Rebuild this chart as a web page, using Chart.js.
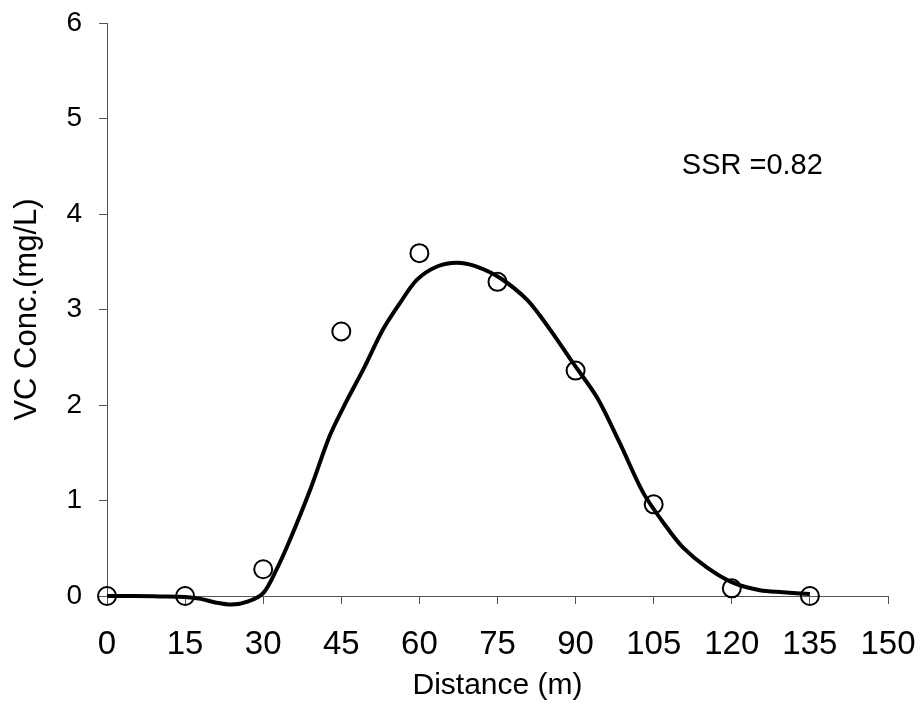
<!DOCTYPE html>
<html>
<head>
<meta charset="utf-8">
<script src="https://cdn.jsdelivr.net/npm/chart.js@4"></script>
<style>
  html, body { margin: 0; padding: 0; background: #fff; }
  #wrap { width: 922px; height: 704px; position: relative; }
</style>
</head>
<body>
<div id="wrap"><canvas id="vcChart"></canvas></div>
<script>
// observed concentrations
const obsDistance = [0, 15, 30, 45, 60, 75, 90, 105, 120, 135];
const obsConc = [0, 0, 0.28, 2.77, 3.59, 3.29, 2.36, 0.96, 0.08, 0];

// fitted model curve
const fitDistance = [0, 5, 10, 15, 18, 21, 24, 27, 30, 32.5, 35, 39, 42.8, 46, 49.2, 53, 56.3, 59.5, 63.4, 67.2, 71, 75.5, 80.7, 85.1, 89.5, 94.1, 98.5, 103, 107.5, 110.6, 115.2, 120.2, 125.4, 129.8, 135];
const fitConc = [0, 0, -0.005, -0.01, -0.03, -0.07, -0.09, -0.06, 0.03, 0.27, 0.57, 1.11, 1.68, 2.04, 2.37, 2.79, 3.07, 3.31, 3.45, 3.49, 3.45, 3.33, 3.10, 2.79, 2.44, 2.08, 1.60, 1.08, 0.72, 0.51, 0.30, 0.14, 0.06, 0.04, 0.02];

const xTicks = [0, 15, 30, 45, 60, 75, 90, 105, 120, 135, 150];
const yTicks = [0, 1, 2, 3, 4, 5, 6];
const ssrText = "SSR =0.82";

const FONT = "'Liberation Sans', Arial, sans-serif";
const AXIS_COLOR = "#555";

// keep the plot box where the layout padding puts it
function noOverflow(s) {
    s.paddingTop = 0;
    s.paddingBottom = 0;
    s.paddingLeft = 0;
    s.paddingRight = 0;
}

const ssrLabel = {
    id: "ssrLabel",
    afterDatasetsDraw(chart) {
        const { ctx, scales } = chart;
        ctx.save();
        ctx.font = "29px " + FONT;
        ctx.fillStyle = "#000";
        ctx.textAlign = "left";
        ctx.textBaseline = "middle";
        ctx.fillText(ssrText, scales.x.getPixelForValue(110.4), scales.y.getPixelForValue(4.5));
        ctx.restore();
    },
};

new Chart(document.getElementById("vcChart"), {
    type: "scatter",
    data: {
        datasets: [
            {
                label: "Model",
                data: fitDistance.map((d, i) => ({ x: d, y: fitConc[i] })),
                showLine: true,
                borderColor: "#000",
                borderWidth: 4,
                pointRadius: 0,
                tension: 0.3,
                clip: false,
                order: 2,
            },
            {
                label: "Observed",
                data: obsDistance.map((d, i) => ({ x: d, y: obsConc[i] })),
                showLine: false,
                pointRadius: 9,
                pointBorderWidth: 2,
                borderColor: "#000",
                backgroundColor: "rgba(0,0,0,0)",
                clip: false,
                order: 1,
            },
        ],
    },
    options: {
        responsive: true,
        maintainAspectRatio: false,
        animation: false,
        layout: { padding: { left: 0, top: 23, right: 34, bottom: 0 } },
        plugins: {
            legend: { display: false },
            tooltip: { enabled: false },
        },
        scales: {
            x: {
                type: "linear",
                min: 0,
                max: 150,
                afterBuildTicks: (s) => { s.ticks = xTicks.map((v) => ({ value: v })); },
                afterFit: (s) => { s.height = 108; noOverflow(s); },
                ticks: { color: "#000", font: { family: FONT, size: 33 }, padding: 21, maxRotation: 0 },
                grid: { drawOnChartArea: false, tickLength: 8, color: AXIS_COLOR },
                border: { color: AXIS_COLOR, width: 1 },
                title: {
                    display: true,
                    text: "Distance (m)",
                    color: "#000",
                    font: { family: FONT, size: 30 },
                    padding: { top: 0, bottom: 0 },
                },
            },
            y: {
                type: "linear",
                min: 0,
                max: 6,
                afterBuildTicks: (s) => { s.ticks = yTicks.map((v) => ({ value: v })); },
                afterFit: (s) => { s.width = 107; noOverflow(s); },
                ticks: { color: "#000", font: { family: FONT, size: 28 }, padding: 17 },
                grid: { drawOnChartArea: false, tickLength: 8, color: AXIS_COLOR },
                border: { color: AXIS_COLOR, width: 1 },
                title: {
                    display: true,
                    text: "VC Conc.(mg/L)",
                    color: "#000",
                    font: { family: FONT, size: 31 },
                    padding: { top: 9, bottom: 0 },
                },
            },
        },
    },
    plugins: [ssrLabel],
});
</script>
</body>
</html>
